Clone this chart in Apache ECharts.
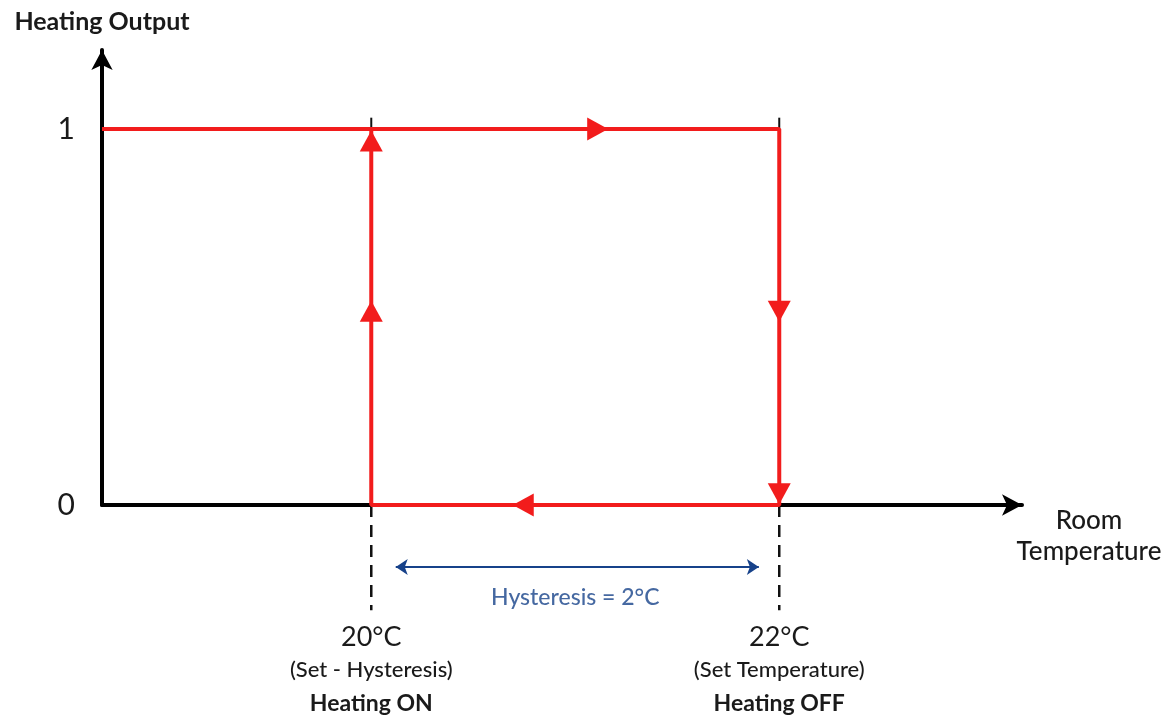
<!DOCTYPE html>
<html>
<head>
<meta charset="utf-8">
<script src="https://cdn.jsdelivr.net/npm/echarts@6/dist/echarts.min.js"></script>
<style>html,body{margin:0;padding:0;background:#fff}#c{width:1169px;height:719px}</style>
</head>
<body>
<div id="c"></div>
<script>
// ---- data ----
const onTemp = 20;          // Set - Hysteresis
const setTemp = 22;         // Set Temperature
const xMin = 18.68, xMax = 23.19;
const yMin = 0, yMax = 1.21;
const loopX = [xMin, 22, 22, 20, 20];
const loopY = [1, 1, 0, 0, 1];
const arrowX = [21.11, 22, 22, 20.745, 20, 20];
const arrowY = [1, 0.515, 0.03, 0, 0.515, 0.968];
const arrowRot = [-90, 180, 180, 90, 0, 0];
const xTickValues = [20, 22];
const xTickLabels = [
  ['20°C', '(Set - Hysteresis)', 'Heating ON'],
  ['22°C', '(Set Temperature)', 'Heating OFF']
];
const yTickValues = [0, 1];
const hystStart = 20.12, hystEnd = 21.9, hystY = -0.165;
const hystLabel = 'Hysteresis = 2°C';
const hystLabelX = 21.0, hystLabelY = -0.245;
const guideBottom = -0.28, guideTop = 1.03;

const RED = '#f21c1c';
const BLUE = '#17428a';
const FONT = 'Lato';

const chart = echarts.init(document.getElementById('c'));
const guideSeries = [];
xTickValues.forEach(v => {
  guideSeries.push({
    type: 'line', clip: false, symbol: 'none', silent: true, z: 1,
    data: [[v, 0], [v, guideBottom]],
    lineStyle: { color: '#111', width: 2.5, type: [12, 8] }
  });
  guideSeries.push({
    type: 'line', clip: false, symbol: 'none', silent: true, z: 1,
    data: [[v, 0.9], [v, guideTop]],
    lineStyle: { color: '#111', width: 2 }
  });
});

chart.setOption({
  animation: false,
  backgroundColor: '#ffffff',
  textStyle: { fontFamily: FONT },
  grid: { left: 102, right: 147, top: 50, bottom: 214, containLabel: false },
  xAxis: {
    type: 'value', min: xMin, max: xMax,
    name: 'Room\nTemperature',
    nameLocation: 'end', nameGap: 67,
    nameTextStyle: { fontFamily: FONT, fontSize: 26, fontWeight: 500, color: '#1a1a1a', align: 'center',
      verticalAlign: 'top', lineHeight: 31 },
    axisLine: { show: true, symbol: ['none', 'arrow'], symbolSize: [16, 20],
      lineStyle: { color: '#000', width: 4 } },
    axisTick: { show: false },
    splitLine: { show: false },
    axisLabel: {
      customValues: xTickValues, margin: 117,
      formatter: function (v) {
        const i = xTickValues.indexOf(v);
        if (i < 0) return '';
        const t = xTickLabels[i];
        return '{t|' + t[0] + '}\n{s|' + t[1] + '}\n{b|' + t[2] + '}';
      },
      rich: {
        t: { fontFamily: FONT, fontSize: 27, color: '#1a1a1a', lineHeight: 30, align: 'center' },
        s: { fontFamily: FONT, fontSize: 22, fontWeight: 500, color: '#1a1a1a', lineHeight: 36, align: 'center' },
        b: { fontFamily: FONT, fontSize: 23, fontWeight: 'bold', color: '#1a1a1a', lineHeight: 32, align: 'center' }
      }
    }
  },
  yAxis: {
    type: 'value', min: yMin, max: yMax, interval: 1,
    name: 'Heating Output', nameLocation: 'end', nameGap: 16,
    nameTextStyle: { fontFamily: FONT, fontSize: 25, fontWeight: 'bold', color: '#1a1a1a', align: 'center' },
    axisLine: { show: true, symbol: ['none', 'arrow'], symbolSize: [16, 20],
      lineStyle: { color: '#000', width: 4 } },
    axisTick: { show: false },
    splitLine: { show: false },
    axisLabel: { customValues: yTickValues, margin: 27, fontFamily: FONT, fontSize: 30, color: '#1a1a1a' }
  },
  series: guideSeries.concat([
    {
      type: 'line', symbol: 'none', z: 3, clip: false,
      data: loopX.map((x, i) => [x, loopY[i]]),
      lineStyle: { color: RED, width: 4 }
    },
    {
      type: 'scatter', z: 4, clip: false,
      symbol: 'triangle', symbolSize: [23, 21],
      itemStyle: { color: RED, opacity: 1 },
      data: arrowX.map((x, i) => ({ value: [x, arrowY[i]], symbolRotate: arrowRot[i] }))
    },
    {
      type: 'lines', coordinateSystem: 'cartesian2d', z: 3, clip: false,
      symbol: ['arrow', 'arrow'], symbolSize: 12,
      lineStyle: { color: BLUE, width: 2, opacity: 1 },
      data: [{ coords: [[hystStart, hystY], [hystEnd, hystY]] }]
    },
    {
      type: 'scatter', z: 3, clip: false, symbolSize: 1,
      itemStyle: { color: 'rgba(0,0,0,0)' },
      label: { show: true, position: 'inside', formatter: hystLabel,
        fontFamily: FONT, fontSize: 23, fontWeight: 500, color: BLUE },
      data: [[hystLabelX, hystLabelY]]
    }
  ])
});
</script>
</body>
</html>
